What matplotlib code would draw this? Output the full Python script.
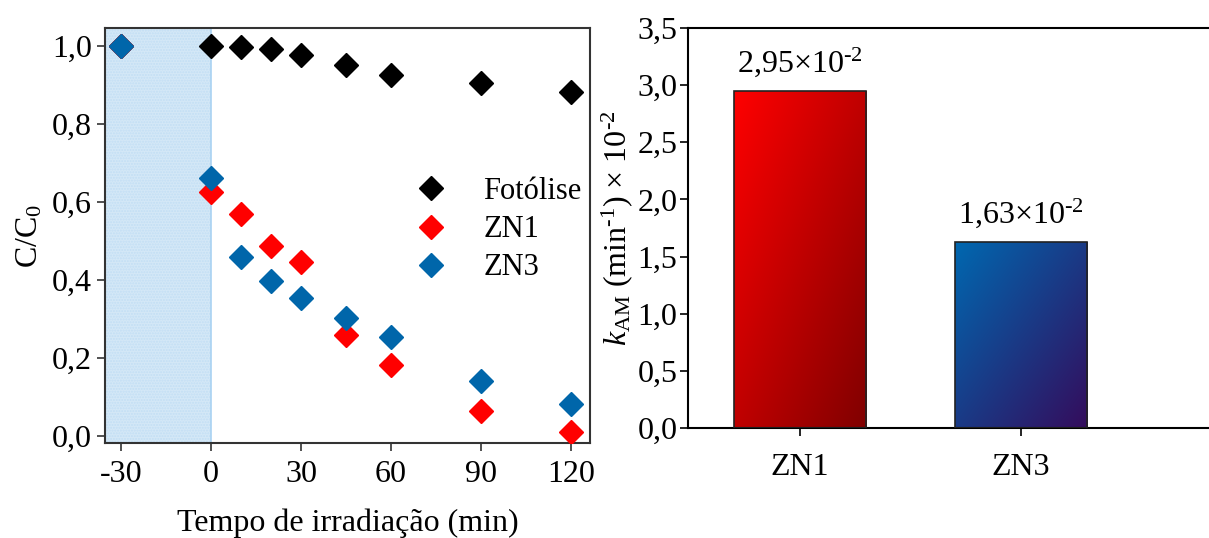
import numpy as np
import matplotlib
matplotlib.use("Agg")
import matplotlib.pyplot as plt
from matplotlib.colors import LinearSegmentedColormap

plt.rcParams['font.family'] = ['Liberation Serif', 'DejaVu Serif']
plt.rcParams['mathtext.fontset'] = 'custom'
plt.rcParams['mathtext.rm'] = 'Liberation Serif'
plt.rcParams['mathtext.it'] = 'Liberation Serif:italic'
plt.rcParams['axes.unicode_minus'] = False

# left panel data
tempo = [-30, 0, 10, 20, 30, 45, 60, 90, 120]
fotolise = [1.0, 1.0, 0.998, 0.991, 0.977, 0.952, 0.926, 0.905, 0.881]
zn1 = [1.0, 0.625, 0.570, 0.488, 0.446, 0.260, 0.181, 0.064, 0.010]
zn3 = [1.0, 0.662, 0.458, 0.398, 0.355, 0.302, 0.254, 0.141, 0.081]

# right panel data
amostras = ['ZN1', 'ZN3']
k_am = [2.95, 1.63]
rotulos = [r'2,95$\times$10$^{\text{-2}}$', r'1,63$\times$10$^{\text{-2}}$']

fs = 23
fig = plt.figure(figsize=(12.09, 5.38), dpi=100)

# ---- left: C/C0 vs time
ax1 = fig.add_axes([0.0868, 0.1766, 0.4012, 0.7714])
ax1.axvspan(-40, 0, facecolor='#d4e8f7', edgecolor='#c2def4', hatch='......',
            linewidth=0, zorder=0)
ax1.axvline(0, color='#a9d2f2', lw=1.2, zorder=0)
ms = 12.5
ax1.plot(tempo, fotolise, 'D', color='black', ms=ms, label='Fotólise', zorder=3)
ax1.plot(tempo, zn1, 'D', color='#ff0000', ms=ms, label='ZN1', zorder=4)
ax1.plot(tempo, zn3, 'D', color='#0066aa', ms=ms, label='ZN3', zorder=5)
ax1.set_xlim(-35.3, 126.3)
ax1.set_ylim(-0.018, 1.046)
ax1.set_xticks([-30, 0, 30, 60, 90, 120])
ax1.set_yticks(np.arange(0, 1.01, 0.2))
ax1.set_yticklabels([f'{v:.1f}'.replace('.', ',') for v in np.arange(0, 1.01, 0.2)])
ax1.tick_params(labelsize=fs, length=6, width=1.2, color='#333333')
ax1.tick_params(axis='x', pad=6)
ax1.set_xlabel('Tempo de irradiação (min)', fontsize=fs, labelpad=14)
ax1.set_ylabel(r'C/C$_0$', fontsize=fs, labelpad=5)
for s in ax1.spines.values():
    s.set_color('#333333')
    s.set_linewidth(1.5)
ax1.legend(loc='upper left', bbox_to_anchor=(0.585, 0.67), frameon=False,
           fontsize=fs - 1, handletextpad=0.7, labelspacing=0.3, borderaxespad=0)

# ---- right: rate constants
ax2 = fig.add_axes([0.569, 0.2045, 0.431, 0.7435])
xpos = np.arange(len(amostras))
bars = ax2.bar(xpos, k_am, width=0.6, edgecolor='#222222', linewidth=1.2,
               facecolor='none', zorder=3)
cmaps = [LinearSegmentedColormap.from_list('r', ['#ff0000', '#800000']),
         LinearSegmentedColormap.from_list('b', ['#0068b0', '#340c5c'])]
gy, gx = np.mgrid[0:1:200j, 0:1:200j]
grad = (gx + gy) / 2
for b, cm in zip(bars, cmaps):
    x0, y0 = b.get_x(), b.get_y()
    w, h = b.get_width(), b.get_height()
    im = ax2.imshow(grad, cmap=cm, extent=[x0, x0 + w, y0, y0 + h],
                    aspect='auto', origin='upper', zorder=2)
    im.set_clip_path(b)
for xp, v, t in zip(xpos, k_am, rotulos):
    ax2.text(xp, v + 0.1, t, ha='center', va='bottom', fontsize=fs)
ax2.set_xlim(-0.507, 1.85)
ax2.set_ylim(0, 3.5)
ax2.set_xticks(xpos)
ax2.set_xticklabels(amostras)
yt = np.arange(0, 3.51, 0.5)
ax2.set_yticks(yt)
ax2.set_yticklabels([f'{v:.1f}'.replace('.', ',') for v in yt])
ax2.tick_params(labelsize=fs, length=6, width=1.2)
ax2.tick_params(axis='x', pad=12)
ax2.tick_params(axis='y', pad=1.5)
ax2.set_ylabel(r'$k_{\mathrm{AM}}$ (min$^{\text{-1}}$) $\times$ 10$^{\text{-2}}$',
               fontsize=fs, labelpad=2)
ax2.spines['right'].set_visible(False)
for s in ['left', 'bottom', 'top']:
    ax2.spines[s].set_linewidth(1.5)

fig.savefig('out.png', dpi=100)
